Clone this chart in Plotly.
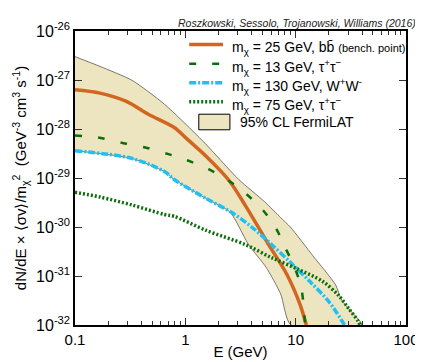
import plotly.graph_objects as go

# energies in GeV, fluxes in GeV^-3 cm^3 s^-1
band_upper_E = [0.1, 0.168, 0.330, 0.647, 1.45, 3.05, 5.22, 7.31, 8.95, 14.3, 23.0, 26.2, 39.4, 39.8]
band_upper_flux = [3.0e-27, 1.9e-27, 9.8e-28, 3.2e-28, 5.6e-29, 9.3e-30, 3.3e-30, 1.55e-30,
                   1.0e-30, 2.6e-31, 6.6e-32, 3.2e-32, 1.1e-32, 1.0e-32]
band_lower_E = [0.1, 0.330, 0.647, 0.793, 1.55, 2.55, 3.73, 5.40, 7.31, 9.04]
band_lower_flux = [3.6e-29, 2.5e-29, 1.35e-29, 9.3e-30, 3.8e-30, 2.0e-30, 4.4e-31, 1.5e-31,
                   4.3e-32, 1.0e-32]

bb25_E = [0.1, 0.168, 0.289, 0.462, 0.793, 1.04, 1.55, 2.49, 3.48, 5.58, 8.37, 10.9, 12.5]
bb25_flux = [6.3e-28, 5.4e-28, 3.7e-28, 2.0e-28, 1.07e-28, 6.2e-29, 2.75e-29, 8.9e-30,
             2.8e-30, 4.7e-31, 1.05e-31, 2.7e-32, 1.0e-32]

tau13_E = [0.1, 0.168, 0.270, 0.433, 0.692, 1.04, 1.66, 2.49, 3.61, 5.06, 6.61, 8.09,
           9.9, 11.3, 11.9, 12.2]
tau13_flux = [7.4e-29, 6.6e-29, 5.2e-29, 4.2e-29, 3.1e-29, 2.3e-29, 1.48e-29, 8.7e-30,
              4.6e-30, 2.2e-30, 9.5e-31, 3.7e-31, 1.4e-31, 5.4e-32, 1.86e-32, 1.0e-32]

ww130_E = [0.1, 0.330, 0.647, 0.793, 1.55, 2.66, 3.99, 5.97, 8.95, 13.4, 20.1, 27.7]
ww130_flux = [3.6e-29, 2.5e-29, 1.35e-29, 9.3e-30, 3.8e-30, 1.95e-30, 1.0e-30, 4.5e-31,
              1.9e-31, 7.8e-32, 2.95e-32, 1.0e-32]

tau75_E = [0.1, 0.168, 0.330, 0.647, 0.793, 1.55, 3.48, 5.97, 10.3, 17.5, 24.5, 30.1, 36.8, 38.3]
tau75_flux = [5.1e-30, 4.1e-30, 2.8e-30, 1.8e-30, 1.65e-30, 8.5e-31, 4.4e-31, 2.4e-31,
              1.4e-31, 7.8e-32, 4.0e-32, 2.2e-32, 1.2e-32, 1.0e-32]

y_exponents = [-26, -27, -28, -29, -30, -31, -32]
x_ticks = [0.1, 1, 10, 100]
x_ticklabels = ["0.1", "1", "10", "100"]
x_minor_ticks = [m * 10.0 ** d for d in (-1, 0, 1) for m in range(2, 10)]

BAND_FILL = "#ede5bf"
ORANGE = "#d2651f"
GREEN = "#0a6e0a"
CYAN = "#1ec0f5"
SMOOTH = 0.9

series = {
    "bb25": ("m<sub>χ</sub> = 25 GeV, bb\u0304 <span style='font-size:11px'>(bench. point)</span>",
             bb25_E, bb25_flux, dict(color=ORANGE, width=3.5, dash="solid")),
    "tau13": ("m<sub>χ</sub> = 13 GeV, τ<sup>+</sup>τ<sup>−</sup>",
              tau13_E, tau13_flux, dict(color=GREEN, width=2.5, dash="7px,16px")),
    "ww130": ("m<sub>χ</sub> = 130 GeV, W<sup>+</sup>W<sup>-</sup>",
              ww130_E, ww130_flux, dict(color=CYAN, width=3.5, dash="7px,2px,2px,2px")),
    "tau75": ("m<sub>χ</sub> = 75 GeV, τ<sup>+</sup>τ<sup>−</sup>",
              tau75_E, tau75_flux, dict(color=GREEN, width=3.5, dash="2px,2px")),
}
legend_order = ["bb25", "tau13", "ww130", "tau75"]
draw_order = ["bb25", "ww130", "tau75", "tau13"]

fig = go.Figure()

# FermiLAT band as one closed polygon
fig.add_trace(go.Scatter(
    x=band_upper_E + band_lower_E[::-1],
    y=band_upper_flux + band_lower_flux[::-1],
    fill="toself", fillcolor=BAND_FILL,
    line=dict(color="#444444", width=0.7, shape="spline", smoothing=0.6),
    mode="lines", showlegend=False,
))

for key in draw_order:
    name, xs, ys, style = series[key]
    fig.add_trace(go.Scatter(
        x=xs, y=ys, mode="lines", name=name, showlegend=False,
        line=dict(shape="spline", smoothing=SMOOTH, **style),
    ))

# hand-made legend (paper coordinates)
shapes = []
annotations = []
row_y = [0.954, 0.889, 0.824, 0.759]
for key, yy in zip(legend_order, row_y):
    name, _, _, style = series[key]
    shapes.append(dict(type="line", xref="paper", yref="paper",
                       x0=0.345, x1=0.447, y0=yy, y1=yy,
                       line=dict(color=style["color"], width=style["width"], dash=style["dash"])))
    annotations.append(dict(text=name, xref="paper", yref="paper", x=0.468, y=yy,
                            xanchor="left", yanchor="middle", yshift=-3, showarrow=False,
                            font=dict(size=14)))
shapes.append(dict(type="rect", xref="paper", yref="paper", x0=0.374, x1=0.468,
                   y0=0.664, y1=0.717, fillcolor=BAND_FILL, line=dict(color="black", width=1)))
annotations.append(dict(text="95% CL FermiLAT", xref="paper", yref="paper", x=0.491, y=0.69,
                        xanchor="left", yanchor="middle", showarrow=False, font=dict(size=14)))
annotations.append(dict(
    text="<i>Roszkowski, Sessolo, Trojanowski, Williams (2016)</i>",
    xref="paper", yref="paper", x=1.035, y=1.0, xanchor="right", yanchor="bottom",
    showarrow=False, font=dict(size=10.5, color="#222222"),
))

fig.update_layout(
    width=423, height=362,
    margin=dict(l=67, r=14, t=15, b=40),
    paper_bgcolor="white", plot_bgcolor="white",
    font=dict(family="Liberation Sans, Arial, sans-serif", size=14, color="black"),
    showlegend=False,
    shapes=shapes,
    annotations=annotations,
)

fig.update_xaxes(
    type="log", range=[-1, 2],
    tickvals=x_ticks, ticktext=x_ticklabels,
    ticks="inside", ticklen=7, tickwidth=1, tickcolor="#333333",
    minor=dict(tickvals=x_minor_ticks, ticks="inside", ticklen=4, tickwidth=1,
               tickcolor="#333333", showgrid=False),
    showline=True, linecolor="black", linewidth=1.5, mirror="allticks",
    showgrid=False, zeroline=False,
    title=dict(text="E (GeV)", font=dict(size=15), standoff=0),
    tickfont=dict(size=15),
)

fig.update_yaxes(
    type="log", range=[-32, -26],
    tickvals=[10.0 ** e for e in y_exponents],
    ticktext=["10<sup>%d</sup>" % e for e in y_exponents],
    ticks="inside", ticklen=7, tickwidth=1, tickcolor="#333333",
    showline=True, linecolor="black", linewidth=1.5, mirror="allticks",
    showgrid=False, zeroline=False,
    title=dict(text="dN/dE × ⟨σv⟩/m<sub>χ</sub><sup>2</sup>  (GeV<sup>-3</sup> cm<sup>3</sup> s<sup>-1</sup>)",
               font=dict(size=15), standoff=6),
    tickfont=dict(size=16),
)

fig.write_html("out.html")
